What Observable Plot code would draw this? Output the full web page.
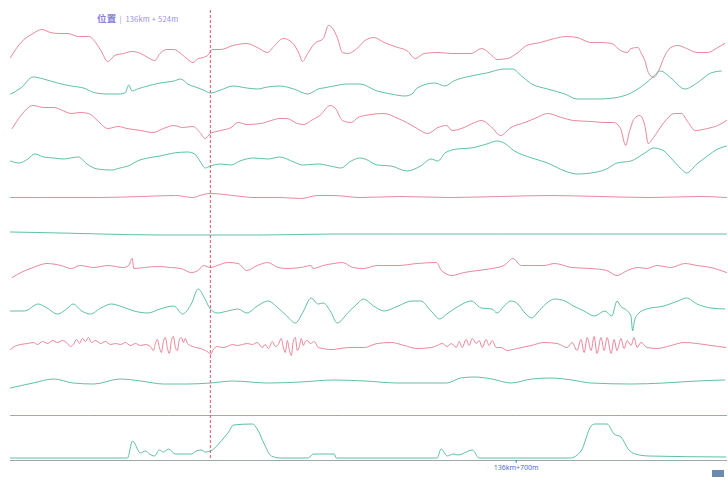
<!DOCTYPE html>
<html><head><meta charset="utf-8">
<script src="https://cdn.jsdelivr.net/npm/d3@7"></script>
<script src="https://cdn.jsdelivr.net/npm/@observablehq/plot@0.6"></script>
<style>
body{margin:0;background:#fff;font-family:"Noto Sans CJK SC","Noto Sans",sans-serif;}
#wrap{position:relative;width:728px;height:481px;}
#pos{position:absolute;left:97px;top:11px;color:#9a90e0;font-size:7.5px;white-space:nowrap;letter-spacing:0.2px;}
#pos b{font-size:9.5px;font-weight:bold;margin-right:3px;color:#8a80d8;}
#box{position:absolute;left:712px;top:470px;width:12px;height:7px;background:#6a8bb0;}
</style></head><body>
<div id="wrap"><div id="chart"></div><div id="pos"><b>位置</b>|&nbsp; 136km + 524m</div><div id="box"></div></div>
<script>
// mileage (m after 136km) and trace deviations
const km = 136;
const cursorM = 524;
const tickM = [700];
const xDomain = [409, 821];

const profileL = [[409,-7],[415,8],[422,17],[427,21],[432,18],[437,17],[442,17],[448,14],[454,14],[458,8],[461,0],[465,-11],[469,-5],[474,-3],[479,-1],[484,-3],[488,-7],[492,-10],[495,-3],[499,1],[503,1],[507,-3],[511,-9],[514,-12],[517,-8],[520,-7],[523,-4],[525,1],[530,1],[537,5],[545,7],[551,3],[557,-2],[560,3],[566,12],[571,8],[575,-3],[577,-11],[580,-3],[584,7],[589,12],[592,25],[594,23],[597,13],[600,-2],[603,-3],[609,3],[613,10],[618,13],[624,8],[632,3],[637,0],[642,-8],[647,-3],[655,-2],[663,-3],[668,-3],[674,-3],[680,2],[686,-5],[689,-9],[695,-8],[701,-2],[706,5],[714,8],[722,12],[729,14],[735,13],[743,8],[749,8],[755,7],[760,0],[764,-2],[766,2],[770,3],[772,-3],[774,-10],[776,-22],[779,-27],[782,-20],[785,-7],[789,3],[793,5],[798,2],[804,-2],[810,-2],[816,3],[820,7]];

const profileR = [[409,-7],[415,-1],[422,10],[428,8],[436,4],[444,1],[451,-1],[458,-6],[465,-7],[472,-7],[475,-6],[477,2],[479,-4],[482,-2],[488,1],[495,4],[503,6],[507,8],[511,3],[517,-1],[520,-3],[524,-6],[530,-3],[537,1],[545,-1],[551,-2],[557,0],[564,1],[572,-2],[580,-7],[583,-5],[586,-2],[589,-1],[595,1],[603,3],[610,3],[620,-4],[628,-7],[636,-9],[640,-7],[643,-1],[653,4],[659,1],[664,6],[674,11],[683,14],[693,18],[698,18],[703,11],[709,3],[718,-2],[728,-7],[735,-12],[747,-12],[756,-11],[766,-6],[774,3],[778,9],[783,16],[789,9],[797,-2],[804,4],[812,14],[818,16]];

const alignL = [[410,-5],[415,8],[422,18],[428,16],[434,16],[439,13],[444,10],[449,11],[454,10],[459,3],[465,-5],[471,-3],[476,-5],[484,-7],[491,-9],[497,-5],[503,-2],[508,-4],[514,-3],[518,-9],[521,-15],[524,-10],[530,-7],[536,-4],[540,1],[545,-1],[553,0],[559,3],[564,5],[568,5],[574,0],[578,-1],[582,3],[587,8],[593,18],[596,15],[600,3],[605,1],[609,6],[613,8],[624,10],[632,5],[637,1],[643,-5],[649,-10],[655,-4],[660,-2],[663,-7],[670,-4],[676,1],[680,3],[686,-4],[691,-12],[697,-4],[705,1],[712,6],[718,10],[726,6],[733,3],[743,2],[751,1],[756,1],[760,-5],[763,-22],[765,-9],[768,5],[771,8],[774,-2],[776,-20],[779,-14],[785,1],[791,10],[795,10],[799,1],[803,-7],[810,-5],[816,-2],[821,3]];

const alignR = [[409,-1],[414,-3],[419,1],[423,6],[428,3],[434,2],[439,1],[448,3],[453,-4],[459,-9],[467,-10],[472,-8],[478,-5],[482,-1],[488,2],[495,4],[503,7],[511,8],[515,6],[518,-1],[521,-8],[524,-6],[530,-4],[536,-5],[541,-1],[549,2],[557,1],[564,3],[572,-2],[577,-5],[586,-4],[593,-6],[599,-8],[605,-1],[610,2],[613,1],[620,-5],[628,-6],[637,-11],[645,-6],[651,1],[655,-1],[659,7],[666,11],[674,12],[683,16],[689,19],[693,17],[699,9],[709,2],[718,-3],[728,-11],[735,-14],[743,-13],[752,-9],[758,-3],[766,-1],[774,7],[779,12],[785,9],[789,2],[795,-9],[798,-13],[804,-4],[810,4],[816,11],[821,14]];

const gauge = [[409,-1],[438,-1],[461,-1],[484,0],[504,1],[514,-1],[518,1],[524,3],[537,1],[549,-1],[564,-1],[576,-2],[586,1],[595,1],[610,-1],[633,0],[662,-1],[691,0],[720,1],[748,0],[777,-1],[806,0],[821,-1]];

const crossLevel = [[409,1],[438,0],[461,-1],[495,-2],[524,-2],[553,-2],[595,-1],[633,-1],[691,-1],[748,-1],[821,-1]];

const twist = [[410,-8],[415,-3],[422,2],[430,6],[438,4],[444,1],[449,4],[457,2],[465,4],[474,2],[477,4],[479,11],[480,1],[486,2],[494,3],[501,2],[507,1],[513,-3],[517,-1],[520,4],[524,2],[528,4],[534,7],[540,6],[545,-1],[551,4],[557,7],[563,2],[568,1],[576,2],[582,4],[583,1],[589,4],[595,6],[600,7],[606,2],[612,1],[620,4],[632,4],[643,6],[654,7],[657,-1],[663,-6],[670,-3],[678,-1],[686,1],[693,4],[698,11],[703,4],[710,4],[716,4],[722,6],[732,2],[743,1],[752,-1],[758,-6],[764,-1],[770,2],[775,1],[781,4],[789,2],[797,6],[804,4],[812,2],[821,-3]];

const vertAcc = [[409,-5],[417,-5],[425,2],[430,-2],[436,-8],[442,-2],[445,2],[450,-5],[455,-8],[461,-2],[467,2],[472,0],[480,-5],[488,-7],[495,-3],[503,0],[508,-8],[513,2],[517,17],[520,10],[524,-3],[528,-7],[534,-5],[540,-3],[545,-7],[551,0],[557,5],[563,-2],[568,-10],[573,-17],[577,-7],[582,8],[586,2],[589,3],[593,-5],[597,-17],[603,-7],[609,3],[612,7],[618,0],[624,-5],[632,0],[640,5],[645,5],[651,-5],[656,-13],[660,-8],[667,0],[674,5],[680,-2],[686,-3],[689,-7],[693,0],[697,5],[701,2],[705,-7],[709,-12],[712,-7],[717,2],[722,7],[728,5],[733,0],[739,-5],[745,-10],[751,-5],[755,-10],[758,5],[760,0],[764,-5],[766,-10],[767,-25],[768,-15],[770,-8],[775,-3],[785,0],[793,5],[798,8],[804,2],[812,-2],[820,-3]];

const latAcc = [[409,-7],[411.3,-4],[414.8,-2],[418.8,-1],[422.2,0],[424.5,-2],[427.4,1],[430.3,-1],[433.2,2],[436,0],[438.9,2],[441.8,-1],[443.5,-4],[445.2,-2],[447,3],[448.7,-1],[450.4,4],[452.1,1],[453.9,5],[455.6,0],[457.9,2],[460.8,-1],[463.6,1],[466.5,-2],[469.4,-1],[472.3,-2],[475.1,0],[478,-3],[480.9,-1],[483.8,-3],[486.6,-2],[489.5,-4],[491.2,-8],[492.4,-1],[493.5,3],[494.7,-5],[495.8,-10],[497,1],[498.1,5],[499.3,-6],[500.4,-11],[501.6,2],[502.7,6],[503.9,-5],[505,-8],[506.2,3],[507.3,5],[508.5,0],[509.6,4],[510.8,-1],[512.5,-3],[515.4,-5],[518.3,-6],[521.1,-8],[522.9,-10],[524,-12],[525.7,-7],[528,-4],[530.9,-5],[533.8,-4],[536.7,-2],[539.5,-3],[542.4,-2],[545.3,-1],[548.2,-2],[551,0],[553.9,-5],[555.6,-2],[557.4,-6],[559.7,1],[561.4,-4],[563.1,-2],[564.8,4],[566,-5],[567.1,-10],[568.3,2],[569.4,-7],[570.6,-13],[571.7,1],[572.9,5],[574,-8],[575.2,-4],[576.3,4],[577.5,-3],[578.6,1],[579.8,2],[581.5,-1],[583.8,1],[586.1,-5],[589,-6],[591.9,-7],[594.7,-7],[598.8,-6],[604.5,-5],[612.6,-5],[620,-1],[628.1,0],[635.6,-3],[643,-6],[651.1,-5],[654.5,-3],[657.4,-1],[660.3,-4],[662.6,-1],[665.5,-5],[667.2,1],[668.9,-5],[671.2,3],[672.9,-3],[674.7,4],[677,-1],[678.7,2],[680.4,-5],[682.7,3],[684.4,-3],[686.2,2],[688.5,-5],[691.3,-5],[694.8,-8],[700.5,-6],[708.6,-3],[716.1,0],[723.5,-1],[729.3,-5],[732.2,0],[735,-8],[737.3,3],[739.1,-10],[740.8,5],[743.1,-8],[744.8,6],[746.5,-11],[748.8,5],[750.6,-8],[752.3,5],[754.6,-11],[756.3,3],[758,-8],[760.3,4],[762.1,-6],[763.8,2],[766.1,-3],[767.8,5],[769.5,-5],[771.8,0],[775.3,-5],[781,-6],[789.1,-3],[796.6,0],[804,-1],[812.1,-3],[820.7,-5]];

const speed = [[409,-9],[422,-4],[434,0],[445,-4],[457,-5],[472,0],[484,-2],[497,-5],[511,-5],[524,-4],[537,-2],[557,-4],[576,-3],[595,-1],[613,-2],[632,-4],[660,-4],[668,1],[676,2],[686,0],[697,-4],[709,0],[720,1],[732,-1],[743,-4],[766,-5],[785,-4],[804,-2],[820,-1]];

const curvatureRef = [[409,0],[500,0],[600,0],[700,0],[821,0]];

const curvature = [[409,-6],[476.3,-6],[479.2,11],[483.8,-1],[486.6,1],[489,-2],[491.8,-4],[494.7,2],[497,0],[499.9,3],[503.9,-2],[513.1,-2],[515.9,1],[518.8,2],[521.1,0],[525.2,2],[529.2,9],[534.9,21],[537.2,27],[548.2,28],[551,23],[555,8],[559.1,-4],[564.3,-6],[580.4,-6],[583.2,-2],[586.1,-2],[595.3,-2],[596.4,-6],[654.5,-6],[656.8,3],[660.3,-4],[663.7,-2],[666.6,-3],[674.7,2],[678.7,-6],[731,-6],[737.3,1],[743.1,26],[745.4,28],[752.3,28],[756.3,18],[760.3,15],[764.4,3],[768.4,-2],[776.4,-4],[820.7,-5]];

const traces = [profileL, profileR, alignL, alignR, gauge, crossLevel, twist, vertAcc, latAcc, speed, curvatureRef, curvature];

// layout & style
const RED = "#e47388", GREEN = "#43b597";
const firstRow = 40, rowGap = 36.5;

const marks = traces.map((t, k) => Plot.line(t, {
  x: d => d[0],
  y: d => d[1] - firstRow - rowGap * k,
  stroke: k % 2 ? GREEN : RED,
  strokeWidth: 1,
  strokeOpacity: 0.85,
  curve: "monotone-x"
}));

const chart = Plot.plot({
  width: 728, height: 481,
  marginTop: 10, marginBottom: 21, marginLeft: 10, marginRight: 2,
  style: {fontFamily: "'Noto Sans', sans-serif", background: "#fff"},
  x: {domain: xDomain, axis: null},
  y: {domain: [-450, 0], axis: null},
  marks: [
    Plot.frame({anchor: "bottom", stroke: "#9aaba8"}),
    ...marks,
    Plot.ruleX([cursorM], {stroke: "#e0566c", strokeDasharray: "3,2", strokeWidth: 1}),
    Plot.axisX({ticks: tickM, tickFormat: d => `${km}km+${d}m`, tickSize: 3, tickPadding: 2, fontSize: 7, color: "#4f6fd6"})
  ]
});
document.getElementById("chart").appendChild(chart);
</script>
</body></html>
